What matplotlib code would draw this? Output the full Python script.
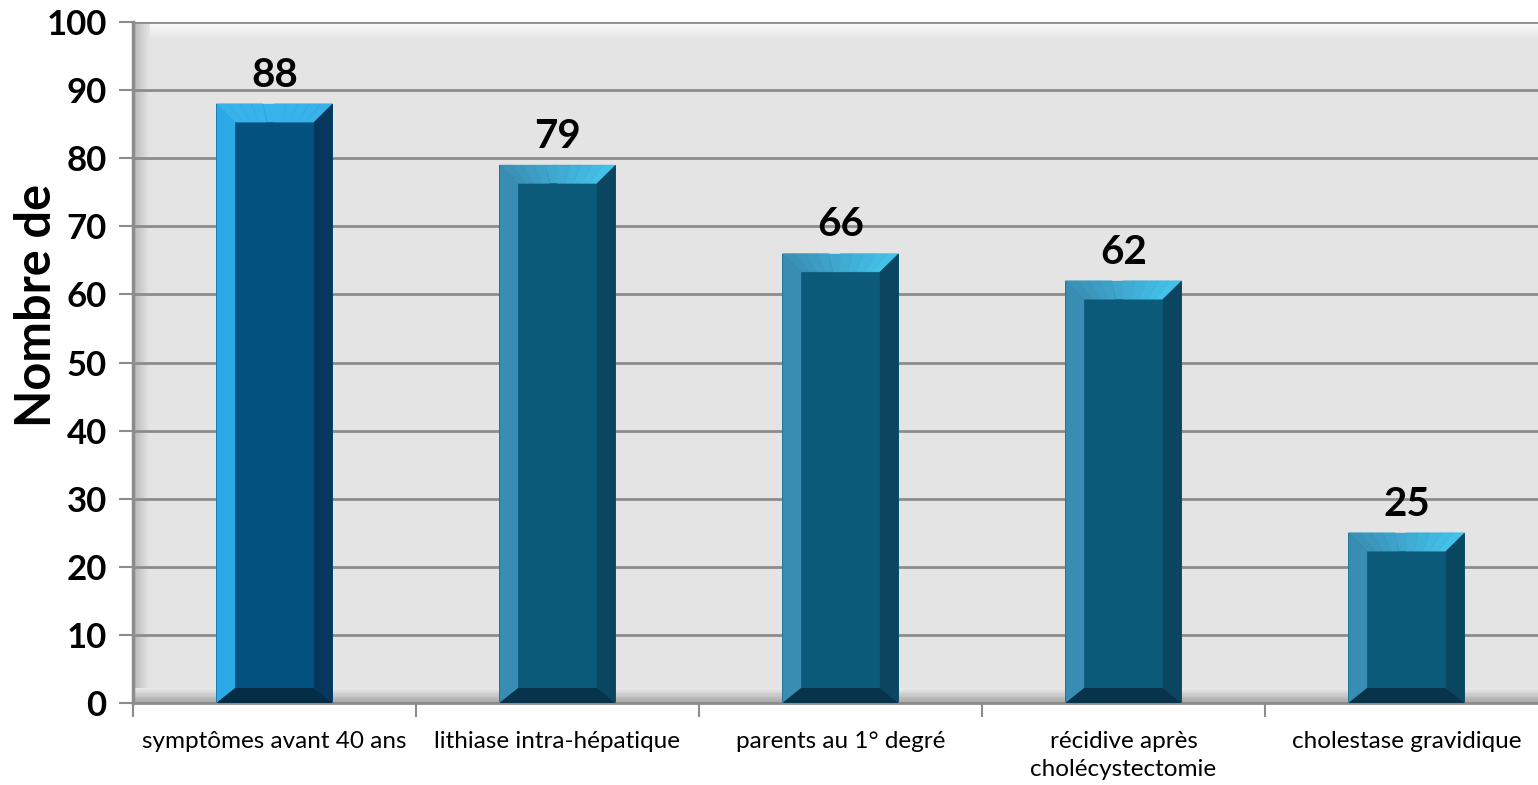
import matplotlib
matplotlib.use("Agg")
import matplotlib.pyplot as plt
from matplotlib.patches import Polygon, Rectangle
import numpy as np

categories = [
    "symptômes avant 40 ans",
    "lithiase intra-hépatique",
    "parents au 1° degré",
    "récidive après\ncholécystectomie",
    "cholestase gravidique",
]
values = [88, 79, 66, 62, 25]
y_ticks = list(range(0, 101, 10))
y_label = "Nombre de"

plt.rcParams["font.family"] = ["Lato", "DejaVu Sans"]

fig = plt.figure(figsize=(15.38, 7.85), dpi=100)
ax = fig.add_axes([133 / 1538, 82 / 785, 1415 / 1538, 681 / 785])

ax.set_xlim(-0.5, len(categories) - 0.5)
ax.set_ylim(0, 100)
ax.set_facecolor("#e4e4e4")

# wall shading: light band at the top, shadows on the left and bottom
def band(x0, y0, w, h, c0, c1, n=12, horizontal=True):
    for i in range(n):
        t = i / (n - 1)
        c = np.array(matplotlib.colors.to_rgb(c0)) * (1 - t) + np.array(matplotlib.colors.to_rgb(c1)) * t
        if horizontal:
            r = Rectangle((x0, y0 + h * i / n), w, h / n, transform=ax.transAxes,
                          facecolor=c, edgecolor="none", zorder=0.5)
        else:
            r = Rectangle((x0 + w * i / n, y0), w / n, h, transform=ax.transAxes,
                          facecolor=c, edgecolor="none", zorder=0.5)
        ax.add_patch(r)

band(0, 0.975, 1, 0.025, "#e4e4e4", "#fafafa")
band(0, 0, 0.012, 1, "#b8b8b8", "#e4e4e4", horizontal=False)
band(0, 0, 1, 0.022, "#a6a6a6", "#e8e8e8")

ax.set_yticks(y_ticks)
ax.yaxis.grid(True, color="#8c8c8c", linewidth=2, zorder=1)
ax.set_axisbelow(True)

for s in ["top", "right"]:
    ax.spines[s].set_visible(False)
ax.spines["left"].set_color("#8c8c8c")
ax.spines["left"].set_linewidth(2.5)
ax.spines["bottom"].set_color("#8c8c8c")
ax.spines["bottom"].set_linewidth(2)

ax.tick_params(axis="y", length=10, width=1.5, color="#8c8c8c", pad=9,
               labelsize=25)
for lab in ax.get_yticklabels():
    lab.set_fontweight("bold")

x = np.arange(len(categories))
ax.set_xticks(x)
ax.set_xticklabels(categories, fontsize=17.5, linespacing=1.45)
ax.set_xticks(np.arange(len(categories) + 1) - 0.5, minor=True)
ax.tick_params(axis="x", which="major", length=0, pad=20)
ax.tick_params(axis="x", which="minor", length=10, width=1.5, color="#8c8c8c")

ax.text(-0.068, 0.584, y_label, transform=ax.transAxes, rotation=90,
        ha="center", va="center", fontsize=35, fontweight="bold")

# bevelled bars
first = dict(face="#03527f", left="#2ca9e7", top="#38b2ea", top2="#38b2ea",
             right="#05385c", bottom="#042c45")
rest = dict(face="#0b5a79", left="#3a8db2", top="#3b92b8", top2="#44c6ee",
            right="#0a4660", bottom="#07344b")

bars = ax.bar(x, values, width=0.41, color=rest["face"], zorder=2)
dx, dy, dyb = 0.066, 2.7, 2.2
for i, b in enumerate(bars):
    st = first if i == 0 else rest
    b.set_facecolor(st["face"])
    x0, w, h = b.get_x(), b.get_width(), b.get_height()
    x1 = x0 + w
    # left
    ax.add_patch(Polygon([(x0, 0), (x0, h), (x0 + dx, h - dy), (x0 + dx, dyb)],
                         closed=True, facecolor=st["left"], edgecolor="none", zorder=3))
    # top, shaded in strips from left to right
    n = 10
    for k in range(n):
        t0, t1 = k / n, (k + 1) / n
        c = (np.array(matplotlib.colors.to_rgb(st["top"])) * (1 - t0)
             + np.array(matplotlib.colors.to_rgb(st["top2"])) * t0)
        xa0 = x0 + (x1 - x0) * t0
        xa1 = x0 + (x1 - x0) * t1
        xb0 = (x0 + dx) + ((x1 - dx) - (x0 + dx)) * t0
        xb1 = (x0 + dx) + ((x1 - dx) - (x0 + dx)) * t1
        ax.add_patch(Polygon([(xa0, h), (xa1, h), (xb1, h - dy), (xb0, h - dy)],
                             closed=True, facecolor=c, edgecolor=c, linewidth=0.3,
                             zorder=3))
    # right
    ax.add_patch(Polygon([(x1, 0), (x1, h), (x1 - dx, h - dy), (x1 - dx, dyb)],
                         closed=True, facecolor=st["right"], edgecolor="none", zorder=3))
    # bottom
    ax.add_patch(Polygon([(x0, 0), (x1, 0), (x1 - dx, dyb), (x0 + dx, dyb)],
                         closed=True, facecolor=st["bottom"], edgecolor="none", zorder=3))
    ax.text(b.get_x() + w / 2, h + 1.5, f"{values[i]}", ha="center", va="bottom",
            fontsize=29, fontweight="bold", zorder=4)

fig.savefig("out.png", dpi=100)
